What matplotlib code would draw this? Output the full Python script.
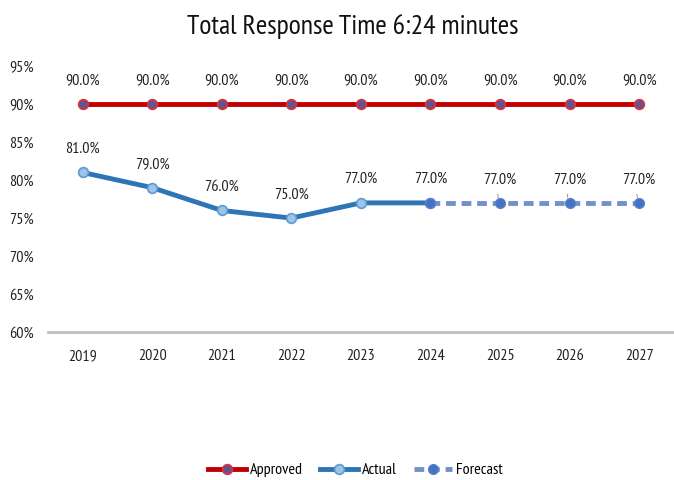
import matplotlib.pyplot as plt
from matplotlib.ticker import FuncFormatter

years = ["2019", "2020", "2021", "2022", "2023", "2024", "2025", "2026", "2027"]
approved = [90, 90, 90, 90, 90, 90, 90, 90, 90]
actual = [81, 79, 76, 75, 77, 77]
forecast = [77, 77, 77, 77]  # 2024-2027

plt.rcParams['font.family'] = ['PT Sans Narrow', 'DejaVu Sans']

fig = plt.figure(figsize=(6.74, 4.8), dpi=100)
ax = fig.add_axes([0.071, 0.308, 0.929, 0.5545])

x = list(range(len(years)))
x_act = x[:len(actual)]
x_fc = x[len(actual) - 1:]

ax.plot(x, approved, color="#C00000", linewidth=3.5, marker="o", markersize=7,
        markerfacecolor="#5E5490", markeredgecolor="#E0303A", markeredgewidth=1.2,
        label="Approved", zorder=3)
ax.plot(x_act, actual, color="#2E75B6", linewidth=3.5, marker="o", markersize=7,
        markerfacecolor="#9DC3E6", markeredgecolor="#5B9BD5", markeredgewidth=1.2,
        label="Actual", zorder=3)
ax.plot(x_fc, forecast, color="#7391C9", linewidth=3.5, linestyle=(0, (2, 1.2)),
        marker="o", markersize=7, markerfacecolor="#4472C4", markeredgecolor="#5A80C8",
        label="Forecast", zorder=4)

lbl = dict(ha="center", va="bottom", fontsize=11.5, color="#222222")
for xi, v in zip(x, approved):
    ax.annotate(f"{v:.1f}%", (xi, v), xytext=(0, 12), textcoords="offset points", **lbl)
for xi, v in zip(x_act, actual):
    ax.annotate(f"{v:.1f}%", (xi, v), xytext=(0, 12), textcoords="offset points", **lbl)
for xi, v in zip(x_fc[1:], forecast[1:]):
    ax.annotate(f"{v:.1f}%", (xi, v), xytext=(0, 11.5), textcoords="offset points", **lbl)
    ax.annotate("", (xi - 0.02, v + 0.3), xytext=(xi - 0.04, v + 1.5),
                arrowprops=dict(arrowstyle="-", color="#A0A0A0", lw=0.8))

ax.set_xlim(-0.5, len(years) - 0.5)
ax.set_ylim(60, 95)
ax.set_yticks([60, 65, 70, 75, 80, 85, 90, 95])
ax.yaxis.set_major_formatter(FuncFormatter(lambda v, p: f"{v:.0f}%"))
ax.set_xticks(x)
ax.set_xticklabels(years)
ax.tick_params(axis="both", length=0, labelsize=11.5, colors="#222222")
ax.tick_params(axis="x", pad=12)
ax.tick_params(axis="y", pad=10)
for side in ["top", "right", "left"]:
    ax.spines[side].set_visible(False)
ax.spines["bottom"].set_color("#BFBFBF")
ax.spines["bottom"].set_linewidth(2)

fig.suptitle("Total Response Time 6:24 minutes", x=0.523, y=0.97, fontsize=20, color="#111111")

fig.legend(loc="lower center", bbox_to_anchor=(0.527, -0.024), ncol=3, frameon=False,
           fontsize=11.5, handlelength=2.4, columnspacing=1.1, handletextpad=0.2)

fig.savefig("out.png", dpi=100)
